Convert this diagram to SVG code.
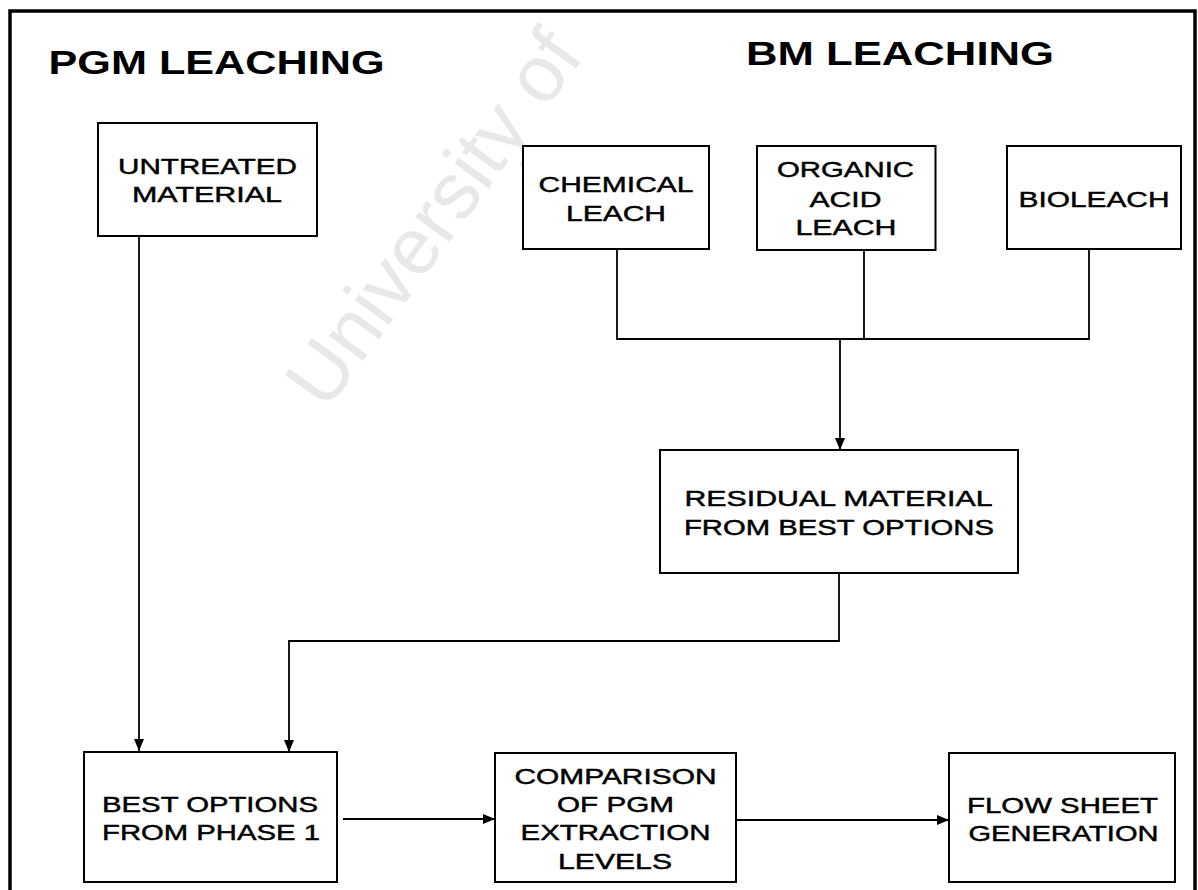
<svg xmlns="http://www.w3.org/2000/svg" width="1198" height="890" viewBox="0 0 1198 890">
<defs>
<style>
.frame{fill:none;stroke:#000;stroke-width:3.5}
.box{fill:#fff;stroke:#000;stroke-width:2}
.wire{fill:none;stroke:#000;stroke-width:1.8}
.t{font-family:"Liberation Sans",Arial,sans-serif;font-size:22px;fill:#000;stroke:#000;stroke-width:0.45}
.h{font-family:"Liberation Sans",Arial,sans-serif;font-size:32.5px;font-weight:bold;fill:#000}
.wm{font-family:"Liberation Sans",Arial,sans-serif;font-size:80px;fill:#e8e8e8}
</style>
<marker id="ah" markerUnits="userSpaceOnUse" markerWidth="12" markerHeight="10" refX="12" refY="5" orient="auto">
<path d="M0,0 L12,5 L0,10 z" fill="#000"/>
</marker>
</defs>
<rect width="1198" height="890" fill="#fff"/>
<text class="wm" transform="translate(326,412) rotate(-54)">University of</text>
<path class="frame" d="M10,892 V11 H1195 V892"/>
<text class="h" x="48.5" y="74" textLength="336" lengthAdjust="spacingAndGlyphs">PGM LEACHING</text>
<text class="h" x="746" y="65" textLength="308" lengthAdjust="spacingAndGlyphs">BM LEACHING</text>
<g id="connectors">
<path class="wire" d="M139,236 V751" marker-end="url(#ah)"/>
<path class="wire" d="M617,249 V339 H1089 V249"/>
<path class="wire" d="M864,250 V339"/>
<path class="wire" d="M840,339 V450" marker-end="url(#ah)"/>
<path class="wire" d="M839,573 V641 H289 V752" marker-end="url(#ah)"/>
<path class="wire" d="M343,819 H495" marker-end="url(#ah)"/>
<path class="wire" d="M729,820 H949" marker-end="url(#ah)"/>
</g>
<g id="untreated">
<rect class="box" x="98" y="123" width="219" height="113"/>
<text class="t" x="118" y="174" textLength="179" lengthAdjust="spacingAndGlyphs">UNTREATED</text>
<text class="t" x="132" y="202" textLength="150" lengthAdjust="spacingAndGlyphs">MATERIAL</text>
</g>
<g id="chemical">
<rect class="box" x="523" y="146" width="186" height="103"/>
<text class="t" x="538.5" y="192" textLength="155" lengthAdjust="spacingAndGlyphs">CHEMICAL</text>
<text class="t" x="566" y="221" textLength="100" lengthAdjust="spacingAndGlyphs">LEACH</text>
</g>
<g id="organic">
<rect class="box" x="757" y="146" width="178.5" height="104"/>
<text class="t" x="777" y="177" textLength="137" lengthAdjust="spacingAndGlyphs">ORGANIC</text>
<text class="t" x="809.5" y="206.5" textLength="72" lengthAdjust="spacingAndGlyphs">ACID</text>
<text class="t" x="795.5" y="235" textLength="101" lengthAdjust="spacingAndGlyphs">LEACH</text>
</g>
<g id="bioleach">
<rect class="box" x="1007" y="146" width="174" height="103"/>
<text class="t" x="1018.5" y="207" textLength="151" lengthAdjust="spacingAndGlyphs">BIOLEACH</text>
</g>
<g id="residual">
<rect class="box" x="660" y="450" width="358" height="123"/>
<text class="t" x="684.5" y="506" textLength="308" lengthAdjust="spacingAndGlyphs">RESIDUAL MATERIAL</text>
<text class="t" x="684" y="535" textLength="310" lengthAdjust="spacingAndGlyphs">FROM BEST OPTIONS</text>
</g>
<g id="best">
<rect class="box" x="84" y="752" width="253" height="130"/>
<text class="t" x="102" y="811.5" textLength="216" lengthAdjust="spacingAndGlyphs">BEST OPTIONS</text>
<text class="t" x="102" y="840" textLength="218" lengthAdjust="spacingAndGlyphs">FROM PHASE 1</text>
</g>
<g id="comparison">
<rect class="box" x="495" y="753" width="241" height="129"/>
<text class="t" x="514.5" y="784" textLength="202" lengthAdjust="spacingAndGlyphs">COMPARISON</text>
<text class="t" x="557" y="811.5" textLength="117" lengthAdjust="spacingAndGlyphs">OF PGM</text>
<text class="t" x="520.5" y="840" textLength="190" lengthAdjust="spacingAndGlyphs">EXTRACTION</text>
<text class="t" x="558" y="869" textLength="114" lengthAdjust="spacingAndGlyphs">LEVELS</text>
</g>
<g id="flowsheet">
<rect class="box" x="949" y="753" width="226" height="129"/>
<text class="t" x="967" y="812.5" textLength="191" lengthAdjust="spacingAndGlyphs">FLOW SHEET</text>
<text class="t" x="968.5" y="841" textLength="190" lengthAdjust="spacingAndGlyphs">GENERATION</text>
</g>
</svg>
